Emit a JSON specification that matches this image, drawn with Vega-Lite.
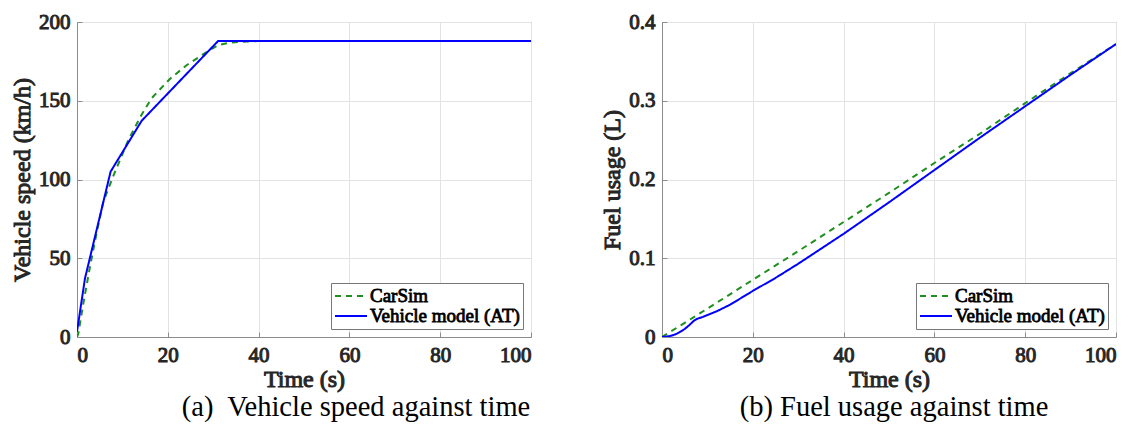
{
  "$schema": "https://vega.github.io/schema/vega-lite/v6.json",
  "background": "white",
  "padding": {"left": 10, "top": 10, "right": 0, "bottom": 0},
  "spacing": 131,
  "bounds": "flush",
  "config": {
    "font": "Liberation Serif",
    "view": {"stroke": "#8c8c8c", "strokeWidth": 1},
    "style": {
      "guide-label": {"stroke": "#262626", "strokeWidth": 1},
      "guide-title": {"stroke": "#262626", "strokeWidth": 1}
    },
    "axis": {
      "labelFont": "Liberation Serif", "labelFontSize": 21, "labelFontWeight": "normal", "labelColor": "#262626",
      "titleFont": "Liberation Serif", "titleFontSize": 24, "titleFontWeight": "normal", "titleColor": "#262626",
      "gridColor": "#e3e3e3", "gridWidth": 1, "domainColor": "#8c8c8c", "tickColor": "#8c8c8c",
      "tickSize": -5, "labelPadding": 12
    },
    "axisX": {"titlePadding": 2},
    "axisY": {"titlePadding": 4},
    "legend": {
      "orient": "bottom-right", "offset": 8, "strokeColor": "#777777", "fillColor": "white", "padding": 3,
      "labelFont": "Liberation Serif", "labelFontSize": 19, "labelFontWeight": "normal", "labelColor": "#000000",
      "labelLimit": 400,
      "symbolType": "stroke", "symbolSize": 1024, "symbolStrokeWidth": 2, "labelOffset": 2, "rowPadding": 0,
      "clipHeight": 20
    },
    "title": {"font": "Liberation Serif", "fontSize": 28.5, "fontWeight": "normal", "color": "#000000"}
  },
  "resolve": {
    "scale": {"color": "independent", "strokeDash": "independent"},
    "legend": {"color": "independent", "strokeDash": "independent"}
  },
  "hconcat": [
    {
      "width": 454, "height": 315,
      "title": {"text": "(a)\u00a0 Vehicle speed against time", "orient": "bottom", "dx": 52, "offset": 2},
      "data": {"values": [
        {"series": "CarSim", "t": 0, "v": 0},
        {"series": "CarSim", "t": 0.3, "v": 2.3},
        {"series": "CarSim", "t": 1.4, "v": 21.4},
        {"series": "CarSim", "t": 2.86, "v": 44.6},
        {"series": "CarSim", "t": 4.3, "v": 65.8},
        {"series": "CarSim", "t": 5.8, "v": 85.9},
        {"series": "CarSim", "t": 8.1, "v": 103},
        {"series": "CarSim", "t": 11.3, "v": 125},
        {"series": "CarSim", "t": 14, "v": 140},
        {"series": "CarSim", "t": 16.4, "v": 151.5},
        {"series": "CarSim", "t": 20.5, "v": 164},
        {"series": "CarSim", "t": 24.2, "v": 172.7},
        {"series": "CarSim", "t": 28.6, "v": 181},
        {"series": "CarSim", "t": 31.1, "v": 185.4},
        {"series": "CarSim", "t": 33.7, "v": 186.9},
        {"series": "CarSim", "t": 36.6, "v": 187.5},
        {"series": "CarSim", "t": 40, "v": 188},
        {"series": "CarSim", "t": 100, "v": 188},
        {"series": "Vehicle model (AT)", "t": 0, "v": 3.4},
        {"series": "Vehicle model (AT)", "t": 1.76, "v": 37.2},
        {"series": "Vehicle model (AT)", "t": 7.4, "v": 105},
        {"series": "Vehicle model (AT)", "t": 14.25, "v": 137.3},
        {"series": "Vehicle model (AT)", "t": 31.1, "v": 188},
        {"series": "Vehicle model (AT)", "t": 100, "v": 188}
      ]},
      "mark": {"type": "line", "strokeWidth": 2, "clip": true},
      "encoding": {
        "x": {"field": "t", "type": "quantitative", "scale": {"domain": [0, 100], "nice": false},
              "axis": {"title": "Time (s)", "values": [0, 20, 40, 60, 80, 100]}},
        "y": {"field": "v", "type": "quantitative", "scale": {"domain": [0, 200], "nice": false},
              "axis": {"title": "Vehicle speed (km/h)", "values": [0, 50, 100, 150, 200]}},
        "color": {"field": "series", "type": "nominal",
                  "scale": {"domain": ["CarSim", "Vehicle model (AT)"], "range": ["#1f8f1f", "#0000ff"]},
                  "legend": {"title": null, "encode": {"labels": {"update": {"stroke": {"value": "#000000"}, "strokeWidth": {"value": 0.8}}}}}},
        "strokeDash": {"field": "series", "type": "nominal",
                  "scale": {"domain": ["CarSim", "Vehicle model (AT)"], "range": [[6, 5], [1, 0]]},
                  "legend": {"title": null, "encode": {"labels": {"update": {"stroke": {"value": "#000000"}, "strokeWidth": {"value": 0.8}}}}}}
      }
    },
    {
      "width": 454, "height": 315,
      "title": {"text": "(b) Fuel usage against time", "orient": "bottom", "dx": 5, "offset": 2},
      "data": {"values": [
        {"series": "CarSim", "t": 0, "v": 0},
        {"series": "CarSim", "t": 5, "v": 0.018},
        {"series": "CarSim", "t": 10, "v": 0.036},
        {"series": "CarSim", "t": 20, "v": 0.0726},
        {"series": "CarSim", "t": 30, "v": 0.109},
        {"series": "CarSim", "t": 40, "v": 0.146},
        {"series": "CarSim", "t": 50, "v": 0.183},
        {"series": "CarSim", "t": 60, "v": 0.221},
        {"series": "CarSim", "t": 70, "v": 0.258},
        {"series": "CarSim", "t": 80, "v": 0.297},
        {"series": "CarSim", "t": 90, "v": 0.335},
        {"series": "CarSim", "t": 100, "v": 0.372},
        {"series": "Vehicle model (AT)", "t": 0, "v": 0},
        {"series": "Vehicle model (AT)", "t": 1, "v": 0.0005},
        {"series": "Vehicle model (AT)", "t": 2, "v": 0.0015},
        {"series": "Vehicle model (AT)", "t": 3, "v": 0.0035},
        {"series": "Vehicle model (AT)", "t": 4, "v": 0.0065},
        {"series": "Vehicle model (AT)", "t": 5, "v": 0.0102},
        {"series": "Vehicle model (AT)", "t": 6, "v": 0.015},
        {"series": "Vehicle model (AT)", "t": 7, "v": 0.0205},
        {"series": "Vehicle model (AT)", "t": 7.6, "v": 0.0228},
        {"series": "Vehicle model (AT)", "t": 9, "v": 0.0255},
        {"series": "Vehicle model (AT)", "t": 12, "v": 0.0325},
        {"series": "Vehicle model (AT)", "t": 15, "v": 0.041},
        {"series": "Vehicle model (AT)", "t": 20, "v": 0.0585},
        {"series": "Vehicle model (AT)", "t": 25, "v": 0.075},
        {"series": "Vehicle model (AT)", "t": 30, "v": 0.093},
        {"series": "Vehicle model (AT)", "t": 35, "v": 0.112},
        {"series": "Vehicle model (AT)", "t": 40, "v": 0.131},
        {"series": "Vehicle model (AT)", "t": 50, "v": 0.171},
        {"series": "Vehicle model (AT)", "t": 60, "v": 0.212},
        {"series": "Vehicle model (AT)", "t": 70, "v": 0.253},
        {"series": "Vehicle model (AT)", "t": 80, "v": 0.293},
        {"series": "Vehicle model (AT)", "t": 90, "v": 0.333},
        {"series": "Vehicle model (AT)", "t": 100, "v": 0.372}
      ]},
      "mark": {"type": "line", "strokeWidth": 2, "clip": true},
      "encoding": {
        "x": {"field": "t", "type": "quantitative", "scale": {"domain": [0, 100], "nice": false},
              "axis": {"title": "Time (s)", "values": [0, 20, 40, 60, 80, 100]}},
        "y": {"field": "v", "type": "quantitative", "scale": {"domain": [0, 0.4], "nice": false},
              "axis": {"title": "Fuel usage (L)", "values": [0, 0.1, 0.2, 0.3, 0.4], "format": "~g"}},
        "color": {"field": "series", "type": "nominal",
                  "scale": {"domain": ["CarSim", "Vehicle model (AT)"], "range": ["#1f8f1f", "#0000ff"]},
                  "legend": {"title": null, "encode": {"labels": {"update": {"stroke": {"value": "#000000"}, "strokeWidth": {"value": 0.8}}}}}},
        "strokeDash": {"field": "series", "type": "nominal",
                  "scale": {"domain": ["CarSim", "Vehicle model (AT)"], "range": [[6, 5], [1, 0]]},
                  "legend": {"title": null, "encode": {"labels": {"update": {"stroke": {"value": "#000000"}, "strokeWidth": {"value": 0.8}}}}}}
      }
    }
  ]
}
